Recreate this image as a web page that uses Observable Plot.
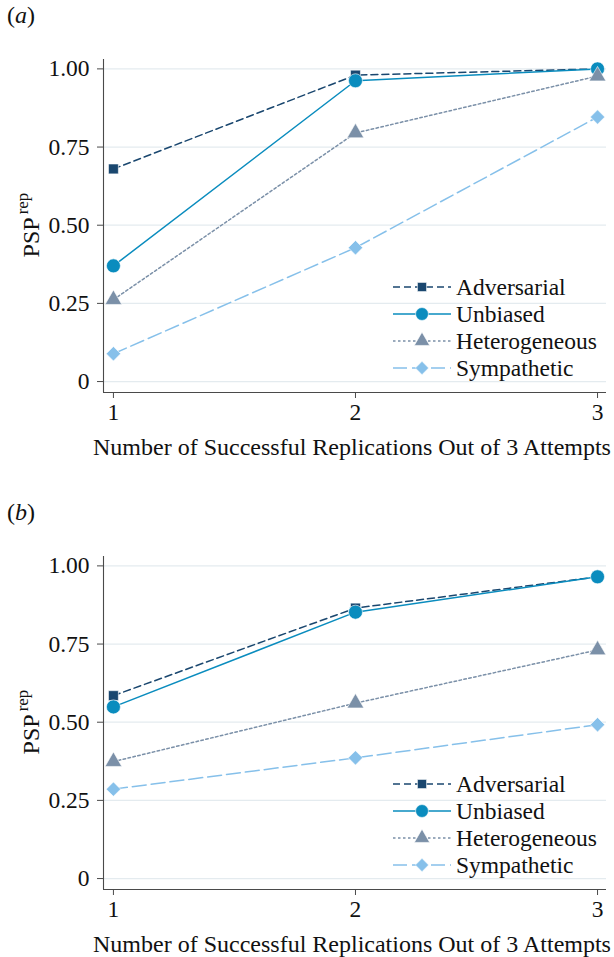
<!DOCTYPE html>
<html><head><meta charset="utf-8">
<script src="https://cdn.jsdelivr.net/npm/d3@7"></script>
<script src="https://cdn.jsdelivr.net/npm/@observablehq/plot@0.6"></script>
<style>
body{margin:0;background:#fff;font-family:"Liberation Serif","Times New Roman",serif;}
.panel-label{height:40px;position:relative;}
.panel-label span{position:absolute;left:7px;top:2px;font-size:24px;color:#111;}
svg{display:block;}
</style>
</head><body><div id="root"></div>
<script>
// ---- data ----
const seriesNames = ["Adversarial", "Unbiased", "Heterogeneous", "Sympathetic"];
const xValues = [1, 2, 3];
const xTickLabels = ["1", "2", "3"];
const yTicks = [0, 0.25, 0.5, 0.75, 1];
const yTickLabels = ["0", "0.25", "0.50", "0.75", "1.00"];

const aAdversarial   = [0.68, 0.98, 1.00];
const aUnbiased      = [0.37, 0.962, 1.00];
const aHeterogeneous = [0.262, 0.795, 0.977];
const aSympathetic   = [0.089, 0.428, 0.846];

const bAdversarial   = [0.585, 0.865, 0.965];
const bUnbiased      = [0.549, 0.852, 0.965];
const bHeterogeneous = [0.374, 0.561, 0.731];
const bSympathetic   = [0.286, 0.386, 0.492];

const xAxisTitle = "Number of Successful Replications Out of 3 Attempts";

// ---- styles ----
const colors = {Adversarial:"#1a476f", Unbiased:"#0a8cbe", Heterogeneous:"#7b90a8", Sympathetic:"#86c0ea"};
const dashes = {Adversarial:"7,4", Unbiased:null, Heterogeneous:"2.5,2.5", Sympathetic:"14,5"};
const symbols = {Adversarial:"square", Unbiased:"circle", Heterogeneous:"triangle", Sympathetic:"diamond2"};
const radii = {Adversarial:5.6, Unbiased:7, Heterogeneous:6.2, Sympathetic:6.5};
const FONT = "Liberation Serif";

function makePanel(label, values){
  const rows = [];
  seriesNames.forEach((s, i) => xValues.forEach((x, j) => rows.push({series: s, x, y: values[i][j]})));
  const xDomain = [0.959, 3.037];
  const yDomain = [-0.035, 1.03];
  const marks = [
    Plot.gridY(yTicks, {stroke: "#e4ebef", strokeOpacity: 1, strokeWidth: 1.2}),
    Plot.ruleX([xDomain[0]], {stroke: "#4a4a4a", strokeWidth: 1.1}),
    Plot.ruleY([yDomain[0]], {stroke: "#4a4a4a", strokeWidth: 1.1}),
    Plot.axisY({ticks: yTicks, tickFormat: (d) => yTickLabels[yTicks.indexOf(d)], tickSize: 6, tickPadding: 8, fontSize: 23.5, label: null, stroke: "#4a4a4a"}),
    Plot.axisX({ticks: xValues, tickFormat: (d) => xTickLabels[xValues.indexOf(d)], tickSize: 6, tickPadding: 5, fontSize: 23.5, label: null, stroke: "#4a4a4a"})
  ];
  seriesNames.forEach(s => {
    const d = rows.filter(r => r.series === s);
    marks.push(Plot.line(d, {x: "x", y: "y", stroke: colors[s], strokeWidth: 1.5, strokeDasharray: dashes[s]}));
    marks.push(Plot.dot(d, {x: "x", y: "y", symbol: () => symbols[s], r: radii[s], fill: colors[s], stroke: "white", strokeWidth: 0.6}));
  });
  const svg = Plot.plot({
    width: 614, height: 457,
    marginLeft: 103, marginRight: 8, marginTop: 19, marginBottom: 105,
    x: {domain: xDomain, axis: null},
    y: {domain: yDomain, axis: null},
    symbol: {type: "identity"},
    style: {fontFamily: FONT, color: "#111", background: "white"},
    marks
  });
  const s = d3.select(svg);
  // y axis title with superscript
  const yt = s.append("text").attr("transform", "translate(39,185) rotate(-90)")
    .attr("text-anchor", "middle").attr("font-family", FONT).attr("fill", "#111");
  yt.append("tspan").attr("font-size", 24).text("PSP");
  yt.append("tspan").attr("font-size", 17).attr("dx", 3).attr("dy", -11).text("rep");
  // x axis title
  s.append("text").attr("x", 352).attr("y", 415).attr("text-anchor", "middle")
    .attr("font-family", FONT).attr("font-size", 24).attr("fill", "#111").text(xAxisTitle);
  // legend
  const lg = s.append("g").attr("font-family", FONT).attr("font-size", 23.5).attr("fill", "#111").attr("text-anchor", "start");
  seriesNames.forEach((name, i) => {
    const y = 247 + i * 27;
    const g = lg.append("g").attr("transform", `translate(0,${y})`);
    g.append("line").attr("x1", 393).attr("x2", 451).attr("y1", 0).attr("y2", 0)
      .attr("stroke", colors[name]).attr("stroke-width", 1.5).attr("stroke-dasharray", dashes[name]);
    const sym = {square: d3.symbolSquare, circle: d3.symbolCircle, triangle: d3.symbolTriangle, diamond2: d3.symbolDiamond2}[symbols[name]];
    const r = radii[name] * 0.92;
    g.append("path").attr("transform", "translate(422,0)").attr("d", d3.symbol(sym, Math.PI * r * r)())
      .attr("fill", colors[name]).attr("stroke", "white").attr("stroke-width", 0.6);
    g.append("text").attr("x", 456).attr("y", 0).attr("dy", "0.33em").attr("text-anchor", "start").text(name);
  });
  const wrap = document.createElement("div");
  const lab = document.createElement("div");
  lab.className = "panel-label";
  lab.innerHTML = `<span>(<i>${label}</i>)</span>`;
  wrap.appendChild(lab);
  wrap.appendChild(svg);
  return wrap;
}

const root = document.getElementById("root");
root.appendChild(makePanel("a", [aAdversarial, aUnbiased, aHeterogeneous, aSympathetic]));
root.appendChild(makePanel("b", [bAdversarial, bUnbiased, bHeterogeneous, bSympathetic]));
</script>
</body></html>
